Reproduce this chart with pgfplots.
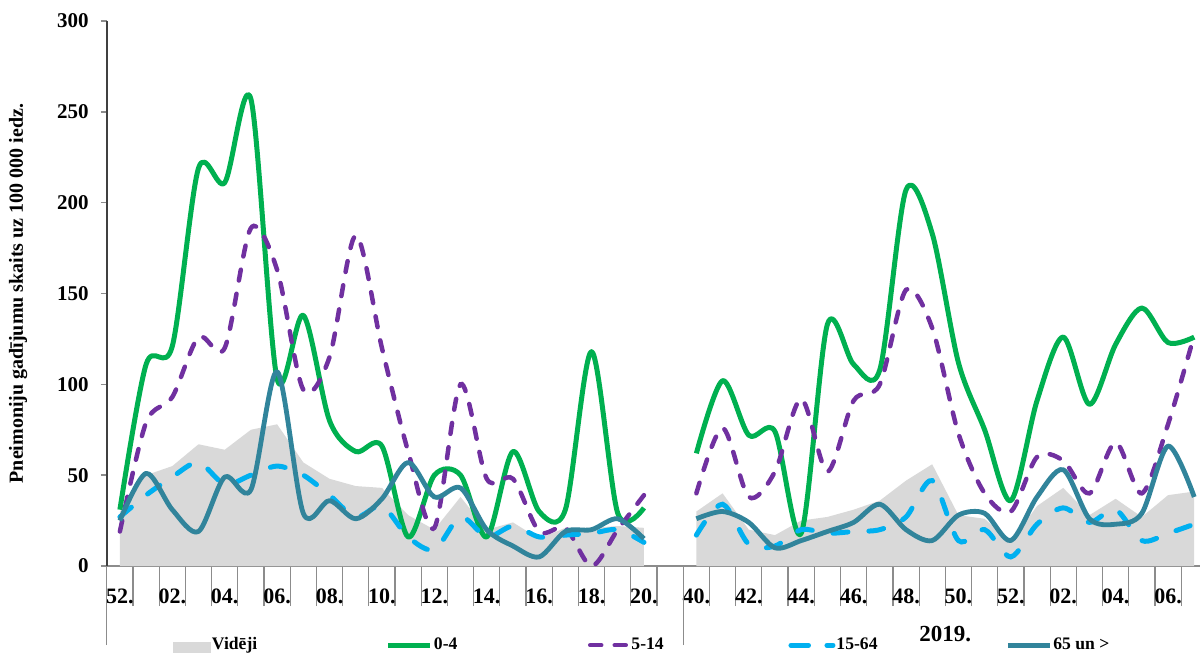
\documentclass[border=0pt]{standalone}
\usepackage{fontspec}
\setmainfont{Liberation Serif}
\usepackage{pgfplots}
\pgfplotsset{compat=1.18}
\usepackage{pgfplotstable}
\definecolor{cgreen}{HTML}{00B050}
\definecolor{cpurple}{HTML}{7030A0}
\definecolor{ccyan}{HTML}{00B0F0}
\definecolor{cteal}{HTML}{31849B}
\definecolor{cgray}{HTML}{D9D9D9}
\definecolor{caxis}{HTML}{8C8C8C}

\pgfplotstableread{
x avg g04 g514 g1564 g65
0 30 31 19 27 25
1 50 111 79 39 51
2 55 121 93 49 31
3 67 219 126 57 19
4 64 211 120 45 49
5 75 257 186 50 42
6 78 103 163 55 107
7 57 138 97 50 29
8 48 80 115 39 36
9 44 63 182 27 26
10 43 66 120 33 37
11 28 16 63 16 57
12 20 50 21 9 38
13 38 50 100 27 43
14 20 16 48 16 20
15 24 63 48 22 11
16 15 30 19 16 5
17 21 31 21 17 19
18 21 118 0 18 20
19 22 29 20 20 26
20 21 32 39 13 15
}\lefttab

\pgfplotstableread{
x avg g04 g514 g1564 g65
22 30 62 40 17 26
23 40 102 76 34 30
24 20 72 38 12 24
25 17 74 52 11 10
26 25 18 92 20 14
27 27 133 52 18 19
28 31 111 91 19 24
29 36 108 100 20 34
30 47 207 152 27 20
31 56 183 131 47 14
32 28 112 73 14 28
33 26 75 40 20 29
34 13 36 30 5 14
35 33 91 60 23 38
36 43 126 58 32 53
37 28 89 40 24 26
38 37 122 68 31 23
39 27 142 40 14 29
40 39 123 78 18 66
41 41 126 127 23 38
}\righttab

\begin{document}
\begin{tikzpicture}
\begin{axis}[
  at={(0,0)}, anchor=south west,
  scale only axis, width=546.6pt, height=272.5pt,
  xmin=-0.5, xmax=41.22, ymin=0, ymax=300,
  axis x line*=bottom, axis y line*=left,
  x axis line style={caxis, line width=0.8pt},
  y axis line style={black!75, line width=0.8pt},
  clip mode=individual,
  /pgf/number format/assume math mode=true,
  ytick={0,50,...,300},
  yticklabel style={font=\bfseries\fontsize{10.5}{12}\selectfont, xshift=-2.5pt},
  ytick align=outside,
  major tick length=3pt,
  y tick style={caxis, line width=0.8pt},
  xtick={0,2,...,40},
  xticklabels={52.,02.,04.,06.,08.,10.,12.,14.,16.,18.,20.,40.,42.,44.,46.,48.,50.,52.,02.,04.,06.},
  xticklabel style={font=\bfseries\fontsize{11}{13}\selectfont, anchor=base, yshift=-15.5pt},
  xtick align=outside,
  major x tick style={draw=none},
  minor xtick={0.5,1.5,2.5,3.5,4.5,5.5,6.5,7.5,8.5,9.5,10.5,11.5,12.5,13.5,14.5,15.5,16.5,17.5,18.5,19.5,20.5,22.5,23.5,24.5,25.5,26.5,27.5,28.5,29.5,30.5,31.5,32.5,33.5,34.5,35.5,36.5,37.5,38.5,39.5,40.5},
  minor tick length=20pt,
  minor x tick style={caxis, line width=0.6pt},
  extra x ticks={-0.5,21.5},
  extra x tick labels={},
  extra x tick style={major tick length=39.5pt, xtick align=outside, major x tick style={draw=caxis, line width=0.6pt}},
  ylabel={Pneimoniju gadījumu skaits uz 100 000 iedz.},
  every axis y label/.style={at={(axis description cs:-0.0812,0.5)}, rotate=90, anchor=center, font=\bfseries\fontsize{10}{12}\selectfont},
  legend columns=5,
  legend cell align=left,
  legend style={at={(0,0)}, anchor=west, xshift=33.1pt, yshift=-39.8pt, draw=none, fill=none, inner sep=0pt, outer sep=0pt,
    font=\bfseries\fontsize{8.8}{10}\selectfont, column sep=0pt,
    /tikz/every odd column/.append style={column sep=0.5pt}, nodes={inner sep=0pt}},
]
\addplot[fill=cgray, draw=none, legend image code/.code={\fill[cgray] (0pt,-4.2pt) rectangle (19pt,1.7pt);}] table[x=x,y=avg]{\lefttab} \closedcycle;
\addlegendentry{\makebox[87pt][l]{Vidēji}}
\addplot[fill=cgray, draw=none, forget plot] table[x=x,y=avg]{\righttab} \closedcycle;

\addplot[cgreen, line width=2.5pt, smooth, tension=0.5, line join=round, legend image code/.code={\draw[cgreen, line width=2.5pt] (0pt,0pt) -- (21pt,0pt);}] table[x=x,y=g04]{\lefttab};
\addlegendentry{\makebox[77pt][l]{0-4}}
\addplot[cgreen, line width=2.5pt, smooth, tension=0.5, line join=round, forget plot] table[x=x,y=g04]{\righttab};

\addplot[cpurple, line width=2.25pt, smooth, tension=0.5, line cap=round, dash pattern=on 5.5pt off 6.75pt, legend image code/.code={\draw[cpurple, line width=2.25pt, line cap=round, dash pattern=on 5.5pt off 6.75pt] (1pt,0pt) -- (20pt,0pt);}] table[x=x,y=g514]{\lefttab};
\addlegendentry{\makebox[78.5pt][l]{5-14}}
\addplot[cpurple, line width=2.25pt, smooth, tension=0.5, line cap=round, dash pattern=on 5.5pt off 6.75pt, forget plot] table[x=x,y=g514]{\righttab};

\addplot[ccyan, line width=2.5pt, smooth, tension=0.5, line cap=round, dash pattern=on 7.5pt off 10.5pt, legend image code/.code={\draw[ccyan, line width=2.5pt, line cap=round] (1.25pt,0pt) -- (9pt,0pt); \path (0pt,0pt) -- (21pt,0pt);}] table[x=x,y=g1564]{\lefttab};
\addlegendentry{\makebox[84.5pt][l]{15-64}}
\addplot[ccyan, line width=2.5pt, smooth, tension=0.5, line cap=round, dash pattern=on 7.5pt off 10.5pt, forget plot] table[x=x,y=g1564]{\righttab};

\addplot[cteal, line width=2.4pt, smooth, tension=0.5, line join=round, legend image code/.code={\draw[cteal, line width=2.4pt] (0pt,0pt) -- (21pt,0pt);}] table[x=x,y=g65]{\lefttab};
\addlegendentry{65 un >}
\addplot[cteal, line width=2.4pt, smooth, tension=0.5, line join=round, forget plot] table[x=x,y=g65]{\righttab};

\node[font=\bfseries\fontsize{11.5}{13}\selectfont, anchor=base] at (axis cs:31.5,0) [yshift=-37.8pt] {2019.};
\end{axis}
\pgfresetboundingbox
\path[use as bounding box] (-53.4pt,-43.5pt) rectangle (546.6pt,283pt);
\end{tikzpicture}
\end{document}
